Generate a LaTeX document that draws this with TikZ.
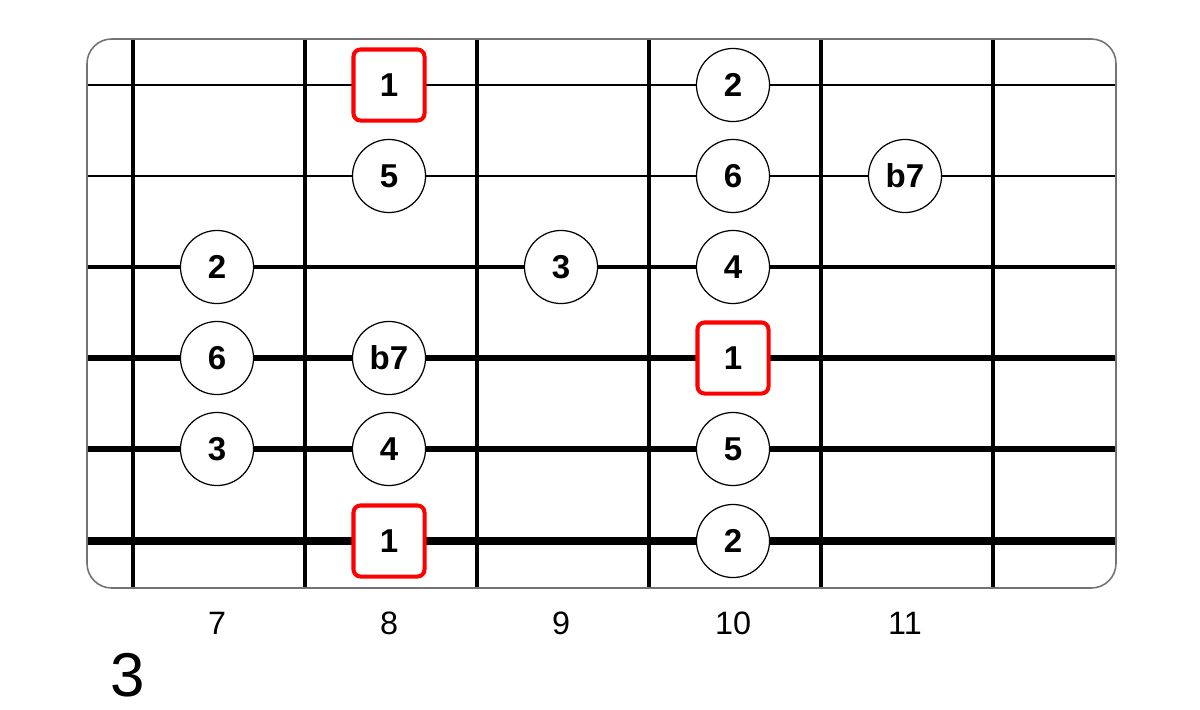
\documentclass[tikz,border=0pt]{standalone}
\usepackage{fontspec}
\setmainfont{Liberation Sans}
\usetikzlibrary{positioning}

\tikzset{
    note/.style={circle,draw=black,fill=white,line width=0.35pt,
        minimum size=0.73cm,inner sep=0pt,
        font=\fontsize{9.4}{10}\selectfont\bfseries},
    root/.style={rectangle,draw=red,fill=white,line width=1.15pt,
        rounded corners=2pt,minimum size=0.71cm,inner sep=0pt,
        font=\fontsize{9.4}{10}\selectfont\bfseries},
    fretnum/.style={font=\fontsize{9.2}{10}\selectfont},
}

\begin{document}
\begin{tikzpicture}[x=0.01cm,y=-0.01cm]
    \useasboundingbox (0,0) rectangle (1200,709);

    % strings, thin to thick
    \foreach \y/\w in {85/0.6,176/0.85,267/1.1,358/1.5,449/1.9,541/2.25}
        \draw[line width=\w pt] (87,\y) -- (1116,\y);

    % frets
    \foreach \x in {133,305,477,649,821,993}
        \draw[line width=0.9pt] (\x,39) -- (\x,588);

    % board outline
    \draw[black!55,line width=0.45pt,rounded corners=7pt] (87,39) rectangle (1116,588);

    % roots
    \node[root] (r1) at (389,85) {1};
    \node[root] (r4) at (733,358) {1};
    \node[root] (r6) at (389,541) {1};

    % other notes
    \node[note] (s1f10) at (733,85) {2};
    \node[note] (s2f8) at (389,176) {5};
    \node[note] (s2f10) at (733,176) {6};
    \node[note] (s2f11) at (905,176) {b7};
    \node[note] (s3f7) at (217,267) {2};
    \node[note] (s3f9) at (561,267) {3};
    \node[note] (s3f10) at (733,267) {4};
    \node[note] (s4f7) at (217,358) {6};
    \node[note] (s4f8) at (389,358) {b7};
    \node[note] (s5f7) at (217,449) {3};
    \node[note] (s5f8) at (389,449) {4};
    \node[note] (s5f10) at (733,449) {5};
    \node[note] (s6f10) at (733,541) {2};

    % fret numbers
    \foreach \f [count=\i from 0] in {7,...,11}
        \node[fretnum] (fn\f) at ({217+172*\i},623.5) {\f};

    \node[inner sep=0pt,font=\fontsize{17.6}{18}\selectfont] (pos) at (128,675) {3};
\end{tikzpicture}
\end{document}
